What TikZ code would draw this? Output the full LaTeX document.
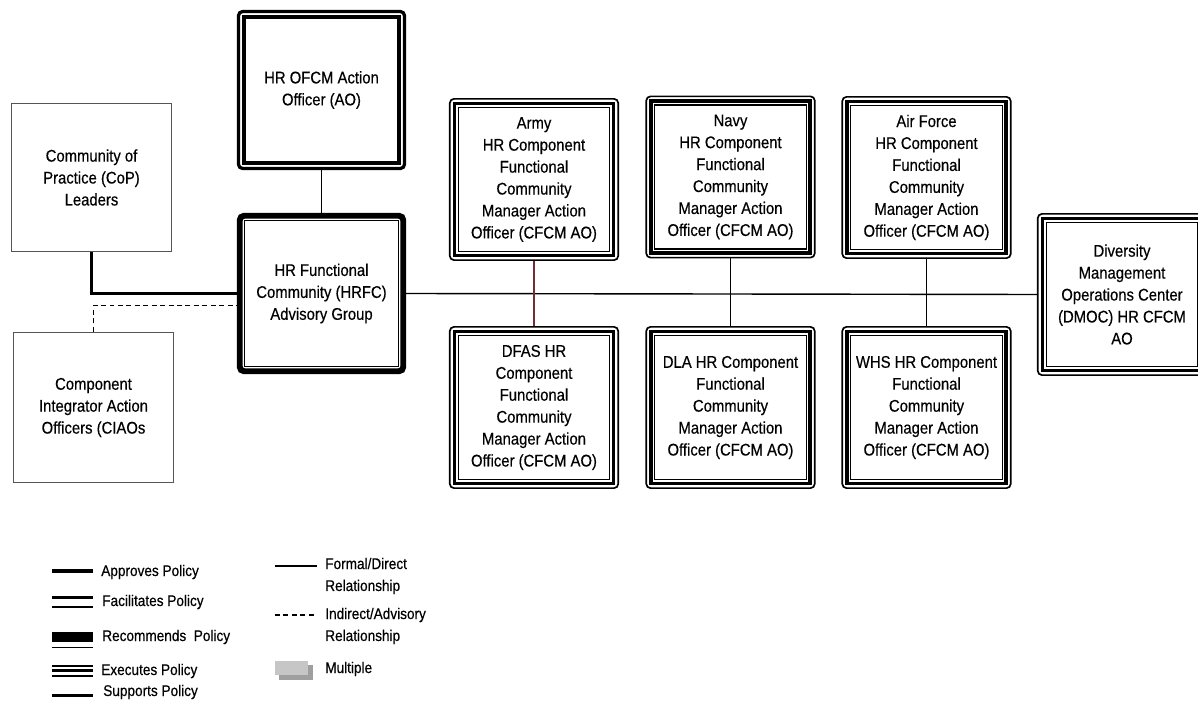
\documentclass[tikz,border=0pt]{standalone}
\usepackage{fontspec}
\setmainfont{Liberation Sans}[FakeStretch=0.88, FakeBold=0.4]
\usetikzlibrary{positioning, shapes.geometric, arrows.meta}
\definecolor{plaingray}{RGB}{85,85,85}
\definecolor{linkred}{RGB}{115,45,55}

\begin{document}
\begin{tikzpicture} [x=0.025cm, y=-0.025cm,
  boxtext/.style={align=center, inner sep=0pt, font=\fontsize{12}{15.6}\selectfont},
  supports/.style={boxtext, draw=plaingray, line width=1.2pt, minimum width=4cm},
  facilitates/.style={boxtext, draw, line width=2.3pt, rounded corners=3pt, minimum width=4.15cm, minimum height=3.925cm,
    path picture={\draw[line width=2.3pt, sharp corners] ([shift={(5.5,-5.5)}]path picture bounding box.south west) rectangle ([shift={(-5.5,5.5)}]path picture bounding box.north east);}},
  recommends/.style={boxtext, draw, line width=4.2pt, rounded corners=3pt, minimum width=4.085cm, minimum height=3.885cm,
    path picture={\draw[line width=0.9pt, sharp corners] ([shift={(5,-5)}]path picture bounding box.south west) rectangle ([shift={(-5,5)}]path picture bounding box.north east);}},
  executes/.style={boxtext, draw, line width=1.2pt, rounded corners=3pt, minimum width=4.21cm, minimum height=4.03cm,
    path picture={\draw[line width=2.6pt, sharp corners] ([shift={(4.7,-4.7)}]path picture bounding box.south west) rectangle ([shift={(-4.7,4.7)}]path picture bounding box.north east);
      \draw[line width=0.9pt, sharp corners] ([shift={(8.5,-8.5)}]path picture bounding box.south west) rectangle ([shift={(-8.5,8.5)}]path picture bounding box.north east);}},
  formal/.style={line width=1pt},
  advisory/.style={line width=0.9pt, dash pattern=on 3.5pt off 2.5pt},
  approves/.style={line width=2.8pt},
  legendtext/.style={anchor=west, align=left, inner sep=0pt, font=\fontsize{11}{15.6}\selectfont}]
\useasboundingbox (0,0) rectangle (1198,708);

\node[supports, minimum height=3.7cm] (cop) at (91.5,177.5) {Community of\\Practice (CoP)\\Leaders};
\node[supports, minimum height=3.75cm] (ciao) at (93.5,407.5) {Component\\Integrator Action\\Officers (CIAOs};
\node[facilitates] (ofcm) at (321.5,90) {HR OFCM Action\\Officer (AO)};
\node[recommends] (hrfc) at (321.5,293.5) {HR Functional\\Community (HRFC)\\Advisory Group};

\node[executes] (army) at (534,179.5) {Army\\HR Component\\Functional\\Community\\Manager Action\\Officer (CFCM AO)};
\node[executes] (navy) at (730.5,177) {Navy\\HR Component\\Functional\\Community\\Manager Action\\Officer (CFCM AO)};
\node[executes] (airforce) at (926.5,177.5) {Air Force\\HR Component\\Functional\\Community\\Manager Action\\Officer (CFCM AO)};
\node[executes] (dfas) at (534,407.5) {DFAS HR\\Component\\Functional\\Community\\Manager Action\\Officer (CFCM AO)};
\node[executes] (dla) at (730.5,407.5) {DLA HR Component\\Functional\\Community\\Manager Action\\Officer (CFCM AO)};
\node[executes] (whs) at (926.5,407.5) {WHS HR Component\\Functional\\Community\\Manager Action\\Officer (CFCM AO)};
\node[executes] (dmoc) at (1122,294.5) {Diversity\\Management\\Operations Center\\(DMOC) HR CFCM\\AO};

\draw[formal] (ofcm) -- (hrfc);
\draw[formal] (hrfc.east) -- (dmoc.west);
\draw[formal, color=linkred] (army) -- (dfas);
\draw[formal] (navy) -- (dla);
\draw[formal] (airforce) -- (whs);
\draw[approves] (cop.south) |- (hrfc.west);
\draw[advisory] (ciao.north) |- ([shift={(0,12)}]hrfc.west);

\draw[line width=2.8pt] (52,571) -- (93,571);
\draw[line width=1.8pt] (52,597.5) -- (93,597.5) (52,607) -- (93,607);
\draw[line width=6.5pt] (52,637) -- (93,637);
\draw[line width=1.1pt] (52,647.5) -- (93,647.5);
\draw[line width=1.8pt] (52,666) -- (93,666) (52,676) -- (93,676);
\draw[line width=2.2pt] (52,670.8) -- (93,670.8);
\draw[line width=1.8pt] (52,695.5) -- (93,695.5);
\node[legendtext] (lapp) at (101,572) {Approves Policy};
\node[legendtext] (lfac) at (102,602) {Facilitates Policy};
\node[legendtext] (lrec) at (102,637) {Recommends\ \ Policy};
\node[legendtext] (lexe) at (101,671) {Executes Policy};
\node[legendtext] (lsup) at (103,692) {Supports Policy};

\draw[formal] (275,566) -- (317,566);
\draw[advisory] (275,615) -- (317,615);
\fill[color=gray!75] (279,665) rectangle (313,680);
\fill[color=gray!45] (275,661) rectangle (308,675);
\node[legendtext] (lfor) at (325,576) {Formal/Direct\\Relationship};
\node[legendtext] (lind) at (325,626) {Indirect/Advisory\\Relationship};
\node[legendtext] (lmul) at (325,669) {Multiple};
\end{tikzpicture}
\end{document}
